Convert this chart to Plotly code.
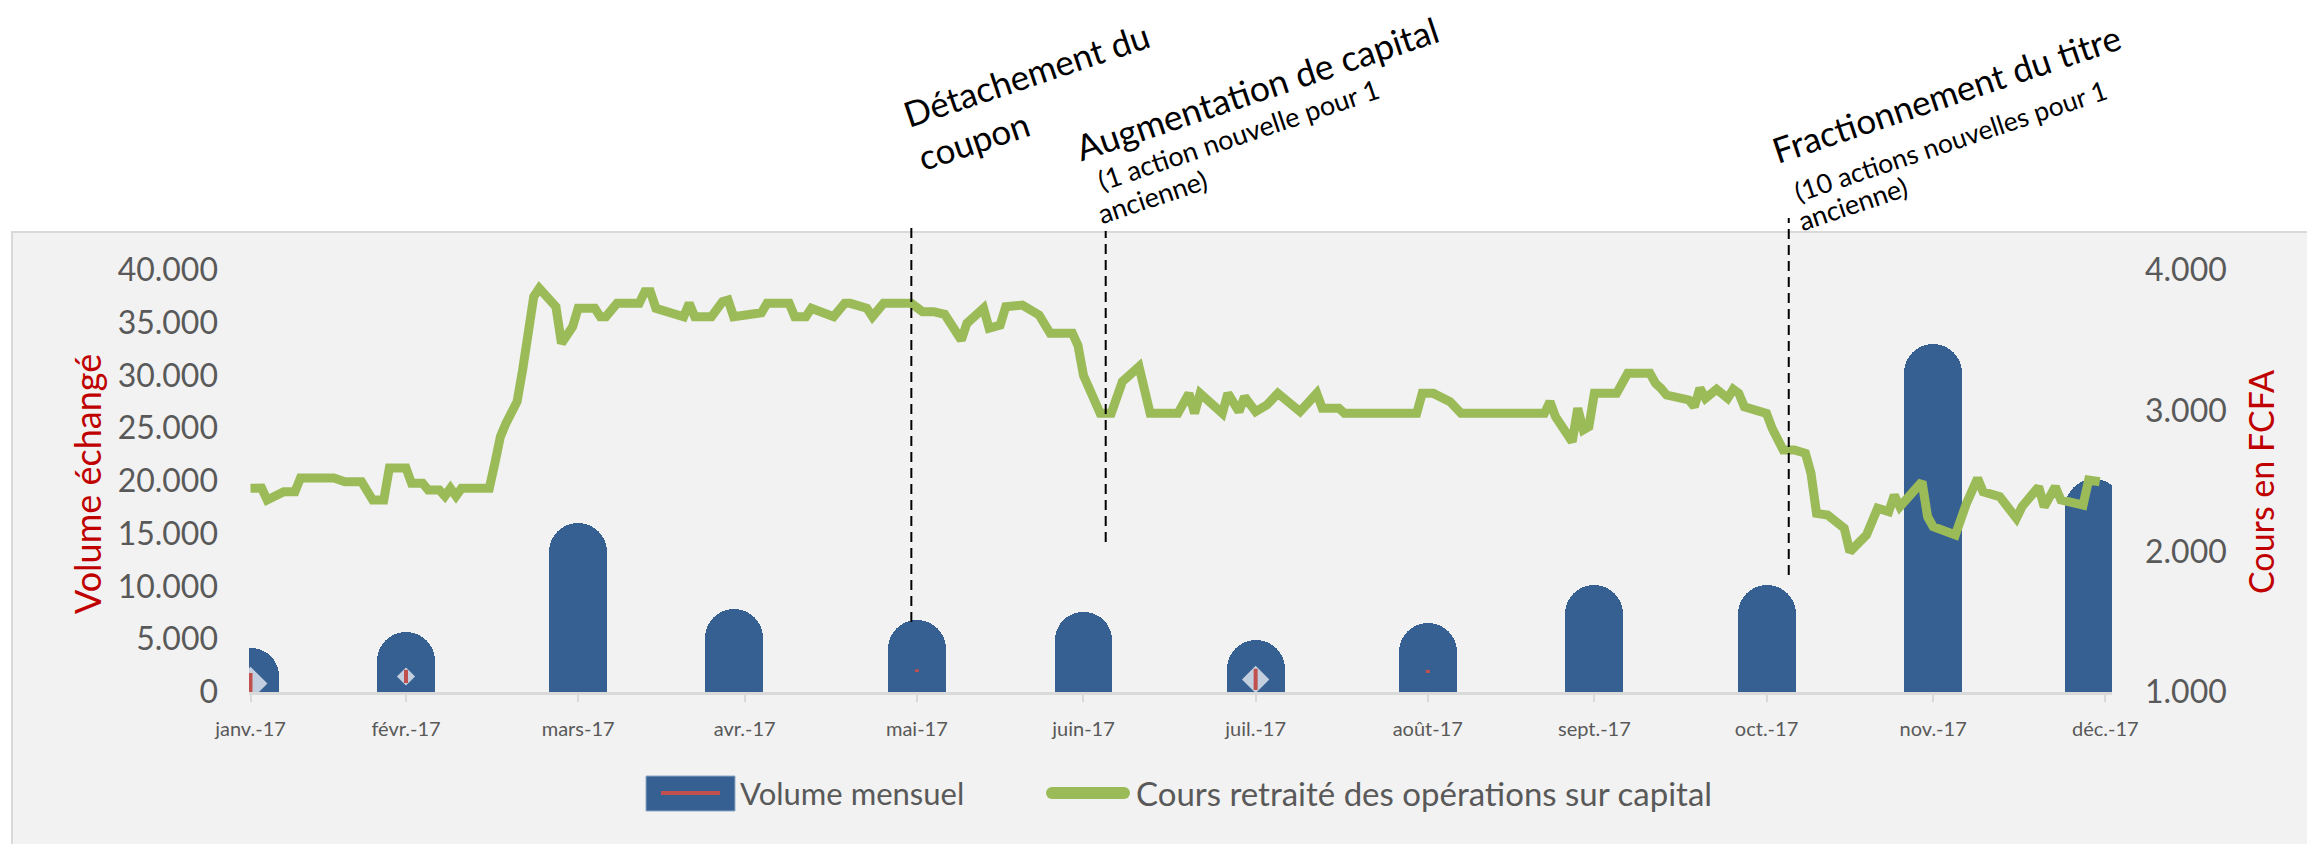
import plotly.graph_objects as go
import pandas as pd

# ---------------- data ----------------
months = ["janv.-17", "févr.-17", "mars-17", "avr.-17", "mai-17", "juin-17",
          "juil.-17", "août-17", "sept.-17", "oct.-17", "nov.-17", "déc.-17"]
tick_dates = ["2017-01-31", "2017-02-28", "2017-03-31", "2017-04-30", "2017-05-31", "2017-06-30",
              "2017-07-31", "2017-08-31", "2017-09-30", "2017-10-31", "2017-11-30", "2017-12-31"]
bar_dates = ["2017-01-31", "2017-02-28", "2017-03-31", "2017-04-28", "2017-05-31", "2017-06-30",
             "2017-07-31", "2017-08-31", "2017-09-30", "2017-10-31", "2017-11-30", "2017-12-29"]
volume = [4200, 5700, 16000, 7900, 6800, 7600, 4900, 6500, 10100, 10100, 33000, 20200]

# daily adjusted price (day of year, FCFA)
line_day = [31, 33, 34, 37, 39, 40, 46, 48, 51, 53, 55, 56, 59, 60, 62, 63, 65, 66, 67, 68,
            69, 74, 75, 76, 77, 79, 80, 81, 82, 83, 84, 86, 87, 88, 89, 90, 93, 94, 95, 97,
            101, 102, 103, 104, 109, 110, 111, 114, 116, 117, 118, 123, 124, 128, 129, 131, 132, 136, 138, 139,
            142, 143, 145, 150, 152, 154, 156, 159, 160, 163, 164, 166, 167, 170, 173, 175, 179, 180, 181, 184,
            186, 188, 191, 193, 198, 200, 201, 202, 206, 207, 209, 210, 212, 214, 216, 220, 223, 224, 227, 228,
            241, 242, 244, 247, 249, 264, 265, 266, 269, 270, 271, 272, 273, 277, 278, 279, 283, 284, 285, 286,
            290, 291, 292, 293, 295, 297, 298, 299, 300, 304, 305, 307, 309, 311, 312, 313, 315, 318, 319, 321,
            322, 324, 326, 327, 328, 332, 333, 334, 338, 340, 342, 343, 346, 349, 350, 353, 354, 356, 357, 361,
            362, 364]
line_price = [2448, 2450, 2365, 2424, 2424, 2521, 2521, 2495, 2495, 2365, 2365, 2592, 2592, 2484, 2484, 2436, 2436, 2393, 2448, 2393,
              2448, 2448, 2626, 2815, 2910, 3064, 3289, 3573, 3810, 3870, 3822, 3739, 3479, 3550, 3597, 3728, 3728, 3668, 3668, 3763,
              3763, 3846, 3846, 3728, 3668, 3763, 3668, 3668, 3775, 3787, 3668, 3696, 3763, 3763, 3668, 3668, 3728, 3668, 3763, 3763,
              3728, 3668, 3763, 3763, 3704, 3704, 3685, 3502, 3621, 3728, 3586, 3609, 3739, 3751, 3680, 3550, 3550, 3465, 3250, 2981,
              2981, 3206, 3313, 2981, 2981, 3123, 2981, 3123, 2981, 3123, 2993, 3099, 2993, 3040, 3123, 2993, 3123, 3017, 3017, 2981,
              2981, 3123, 3123, 3064, 2981, 2981, 3064, 2957, 2779, 3017, 2863, 2886, 3123, 3123, 3182, 3266, 3266, 3195, 3159, 3111,
              3076, 3028, 3159, 3088, 3152, 3088, 3152, 3123, 3028, 2981, 2875, 2720, 2720, 2697, 2555, 2270, 2258, 2164, 1997, 2081,
              2116, 2306, 2282, 2400, 2317, 2495, 2246, 2175, 2116, 2341, 2519, 2424, 2388, 2235, 2317, 2459, 2317, 2459, 2365, 2329,
              2507, 2495]

# small high-low marks seen inside some volume bars
hl_dates = ["2017-01-31", "2017-02-28", "2017-05-31", "2017-07-31", "2017-08-31"]
hl_low = [0, 850, 1900, 200, 1800]
hl_high = [1800, 2100, 2150, 2200, 2100]
hl_mid_dates = ["2017-01-31", "2017-02-28", "2017-07-31"]
hl_mid = [800, 1470, 1185]

event_dates = ["2017-05-30", "2017-07-04", "2017-11-04"]

# ---------------- geometry (layout) ----------------
# the page body adds an 8px offset; figure is sized so the plot lands where the reference has it
OFF = 8
W, H = 2315 - OFF, 844 - OFF
PLOT_X0, PLOT_X1 = 249, 2112   # reference pixel frame
PLOT_Y0, PLOT_Y1 = 270, 692
PW, PH = PLOT_X1 - PLOT_X0, PLOT_Y1 - PLOT_Y0
L, T = PLOT_X0 - OFF, PLOT_Y0 - OFF
R, B = W - L - PW, H - T - PH


def px(x):
    return (x - PLOT_X0) / PW


def py(y):
    return (PLOT_Y1 - y) / PH


line_dates = pd.to_datetime("2016-12-31") + pd.to_timedelta(line_day, unit="D")
bar_width_ms = 10.44 * 86400000

FONT = "Lato"
GREY_TXT = "#595959"
BLUE = "#376092"
GREEN = "#9BBB59"
RED = "#C0504D"

fig = go.Figure()

fig.add_trace(go.Bar(
    x=bar_dates, y=volume, width=bar_width_ms,
    marker=dict(color=BLUE, cornerradius="50%", line=dict(width=0)),
    name="Volume mensuel", showlegend=False,
))

# high-low marks
hx, hy = [], []
for d, lo, hi in zip(hl_dates, hl_low, hl_high):
    hx += [d, d, None]
    hy += [lo, hi, None]
fig.add_trace(go.Scatter(
    x=hl_mid_dates, y=hl_mid, mode="markers",
    marker=dict(symbol="diamond", color="white", size=[26, 14, 21], line=dict(width=0)),
    showlegend=False, hoverinfo="skip",
))
fig.add_trace(go.Scatter(
    x=hx, y=hy, mode="lines", line=dict(color=RED, width=4),
    showlegend=False, hoverinfo="skip",
))

fig.add_trace(go.Scatter(
    x=line_dates, y=line_price, yaxis="y2", mode="lines",
    line=dict(color=GREEN, width=9),
    name="Cours retraité des opérations sur capital", showlegend=False,
))

shapes = []
# chart area box
shapes.append(dict(type="rect", xref="paper", yref="paper",
                   x0=px(12), x1=px(2340), y0=py(232), y1=py(870),
                   fillcolor="#F2F2F2", line=dict(color="#D9D9D9", width=2), layer="below"))
# event dashed lines
ev_y0 = [py(622), py(542), py(575)]
ev_y1 = [py(228), py(231), py(218)]
for d, a, b in zip(event_dates, ev_y0, ev_y1):
    shapes.append(dict(type="line", xref="x", yref="paper", x0=d, x1=d, y0=a, y1=b,
                       line=dict(color="black", width=2, dash="10px,6px"), layer="above"))

# custom legend
shapes.append(dict(type="rect", xref="paper", yref="paper",
                   x0=px(646), x1=px(735), y0=py(811), y1=py(776),
                   fillcolor=BLUE, line=dict(color="#8EA9C9", width=1)))
shapes.append(dict(type="line", xref="paper", yref="paper",
                   x0=px(661), x1=px(720), y0=py(793), y1=py(793),
                   line=dict(color=RED, width=4)))
shapes.append(dict(type="line", xref="paper", yref="paper",
                   x0=px(1052), x1=px(1124), y0=py(793), y1=py(793),
                   line=dict(color=GREEN, width=12)))
for cx in (1052, 1124):
    shapes.append(dict(type="circle", xref="paper", yref="paper",
                       x0=px(cx - 6), x1=px(cx + 6), y0=py(799), y1=py(787),
                       fillcolor=GREEN, line=dict(width=0)))

annotations = []
# axis titles
annotations.append(dict(text="Volume échangé", xref="paper", yref="paper", x=px(87), y=py(484),
                        textangle=-90, showarrow=False, xanchor="center", yanchor="middle",
                        font=dict(family=FONT, size=36, color="#C00000")))
annotations.append(dict(text="Cours en FCFA", xref="paper", yref="paper", x=px(2260), y=py(482),
                        textangle=-90, showarrow=False, xanchor="center", yanchor="middle",
                        font=dict(family=FONT, size=34, color="#C00000")))
# legend text
annotations.append(dict(text="Volume mensuel", xref="paper", yref="paper", x=px(738), y=py(793),
                        showarrow=False, xanchor="left", yanchor="middle",
                        font=dict(family=FONT, size=31, color=GREY_TXT)))
annotations.append(dict(text="Cours retraité des opérations sur capital", xref="paper", yref="paper",
                        x=px(1134), y=py(793), showarrow=False, xanchor="left", yanchor="middle",
                        font=dict(family=FONT, size=33, color=GREY_TXT)))

# event labels (rotated)
ANG = -18.5
ev_text = [
    ("Détachement du", 1026, 74, 35),
    ("coupon", 973, 140, 35),
    ("Augmentation de capital", 1257, 88, 35.5),
    ("(1 action nouvelle pour 1", 1238, 134, 27),
    ("ancienne)", 1152, 197, 27),
    ("Fractionnement du titre", 1946, 93, 35),
    ("(10 actions nouvelles pour 1", 1950, 141, 26.5),
    ("ancienne)", 1852, 203, 27),
]
for t, x, y, s in ev_text:
    annotations.append(dict(text=t, xref="paper", yref="paper", x=px(x), y=py(y),
                            textangle=ANG, showarrow=False, xanchor="center", yanchor="middle",
                            font=dict(family=FONT, size=s, color="black")))

fig.update_layout(
    width=W, height=H,
    margin=dict(l=L, r=R, t=T, b=B, pad=0),
    paper_bgcolor="white", plot_bgcolor="#F2F2F2",
    separators=",.",
    showlegend=False,
    bargap=0,
    xaxis=dict(type="date", range=["2017-01-30 17:30", "2018-01-01 05:00"],
               tickvals=tick_dates, ticktext=months,
               showline=True, linecolor="#D9D9D9", linewidth=3,
               ticks="outside", ticklen=7, tickwidth=2, tickcolor="#D9D9D9",
               showgrid=False, zeroline=False, ticklabelstandoff=10,
               tickfont=dict(family=FONT, size=20, color=GREY_TXT)),
    yaxis=dict(range=[0, 40000], tickvals=list(range(0, 40001, 5000)), tickformat=",d",
               showgrid=False, zeroline=False, showline=False, ticks="",
               ticklabelstandoff=30,
               tickfont=dict(family=FONT, size=32, color=GREY_TXT)),
    yaxis2=dict(range=[1000, 4000], tickvals=[1000, 2000, 3000, 4000], tickformat=",d",
                overlaying="y", side="right",
                showgrid=False, zeroline=False, showline=False, ticks="",
                ticklabelstandoff=32,
                tickfont=dict(family=FONT, size=32, color=GREY_TXT)),
    shapes=shapes,
    annotations=annotations,
)

fig.write_html("out.html")
